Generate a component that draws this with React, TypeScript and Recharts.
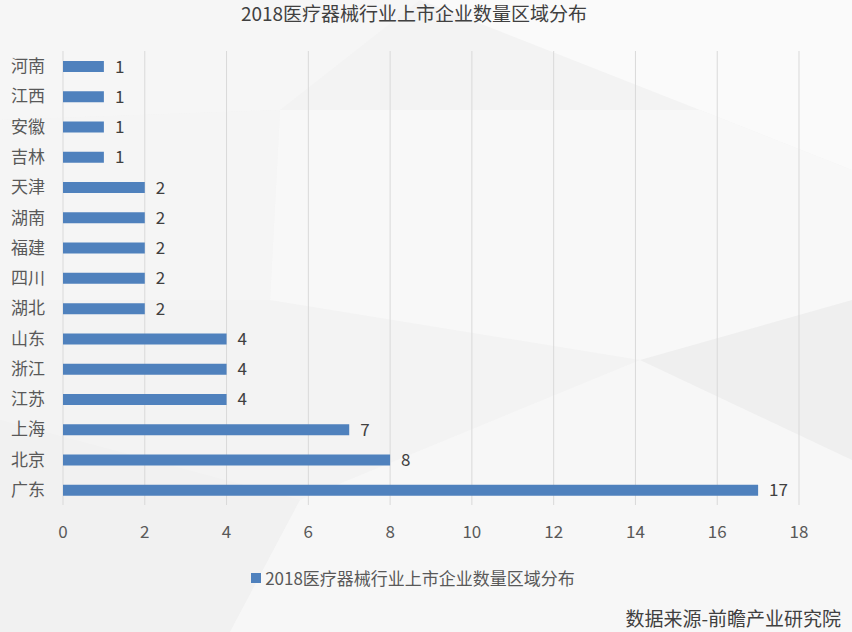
import React from "react";
import { Bar, BarChart, CartesianGrid, LabelList, XAxis, YAxis } from "recharts";

const provinces = ["河南", "江西", "安徽", "吉林", "天津", "湖南", "福建", "四川", "湖北", "山东", "浙江", "江苏", "上海", "北京", "广东"];
const companyCounts = [1, 1, 1, 1, 2, 2, 2, 2, 2, 4, 4, 4, 7, 8, 17];
const xTicks = [0, 2, 4, 6, 8, 10, 12, 14, 16, 18];

const seriesName = "2018医疗器械行业上市企业数量区域分布";
const FONT = "'Noto Sans CJK SC', 'Noto Sans', sans-serif";
const BAR_COLOR = "#4f81bd";

const data = provinces.map((name, i) => ({ name, count: companyCounts[i] }));

function Backdrop() {
  return (
    <svg width={852} height={632} style={{ position: "absolute", left: 0, top: 0 }}>
      <rect x={0} y={0} width={852} height={632} fill="#f3f3f3" />
      <polygon points="0,0 420,0 280,110 0,120" fill="#f6f6f6" />
      <polygon points="420,0 852,0 852,170 700,110" fill="#fafafa" />
      <polygon points="280,110 700,110 852,170 852,380 640,360 270,300" fill="#f8f8f8" />
      <polygon points="0,120 280,110 270,300 0,300" fill="#f5f5f5" />
      <polygon points="0,420 300,500 230,632 0,632" fill="#f1f1f1" />
      <polygon points="300,500 640,360 852,380 852,632 230,632" fill="#f7f7f7" />
      <polygon points="640,360 852,300 852,460" fill="#efefef" />
    </svg>
  );
}

export default function App() {
  return (
    <div style={{ position: "relative", width: 852, height: 632, fontFamily: FONT }}>
      <style>{`body{margin:0}`}</style>
      <Backdrop />
      <div
        style={{
          position: "absolute",
          top: 3,
          left: 0,
          width: 828,
          lineHeight: "20px",
          textAlign: "center",
          fontSize: 19,
          color: "#404040",
        }}
      >
        {seriesName}
      </div>
      <div style={{ position: "absolute", top: 0, left: 0 }}>
        <BarChart
          width={852}
          height={632}
          data={data}
          layout="vertical"
          margin={{ top: 51, right: 53, bottom: 97, left: 8 }}
        >
          <CartesianGrid horizontal={false} stroke="#d9d9d9" />
          <XAxis
            type="number"
            domain={[0, 18]}
            ticks={xTicks}
            axisLine={false}
            tickLine={false}
            tickSize={0}
            tickMargin={21}
            height={30}
            tick={{ fill: "#595959", fontSize: 17, fontFamily: FONT }}
          />
          <YAxis
            type="category"
            dataKey="name"
            width={55}
            axisLine={false}
            tickLine={false}
            tickSize={0}
            tickMargin={18}
            tick={{ fill: "#595959", fontSize: 17, fontFamily: FONT }}
          />
          <Bar dataKey="count" name={seriesName} fill={BAR_COLOR} barSize={11} isAnimationActive={false}>
            <LabelList dataKey="count" position="right" offset={11} fill="#404040" fontSize={17} fontFamily={FONT} />
          </Bar>
        </BarChart>
      </div>
      <div
        style={{
          position: "absolute",
          top: 565,
          left: 0,
          width: 826,
          display: "flex",
          justifyContent: "center",
          alignItems: "center",
          fontSize: 17,
          color: "#595959",
        }}
      >
        <span style={{ width: 10, height: 10, background: BAR_COLOR, marginRight: 4 }} />
        <span>{seriesName}</span>
      </div>
      <div
        style={{
          position: "absolute",
          right: 11,
          top: 604,
          fontSize: 19,
          color: "#404040",
        }}
      >
        数据来源-前瞻产业研究院
      </div>
    </div>
  );
}
